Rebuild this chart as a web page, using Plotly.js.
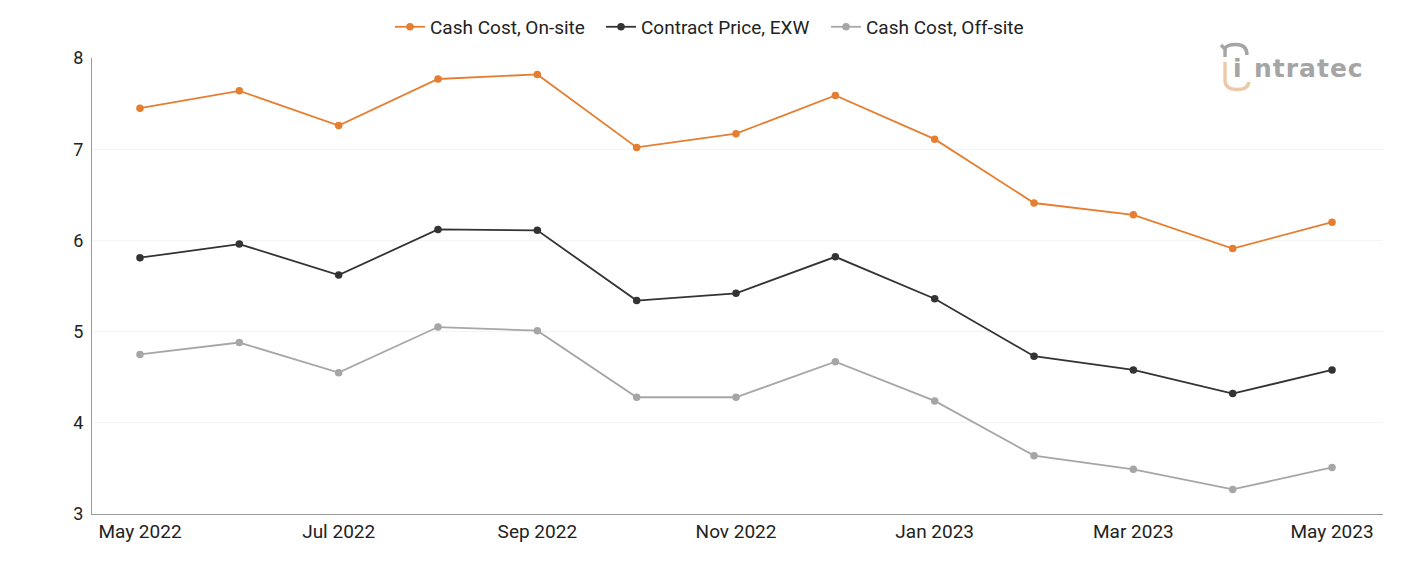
<!DOCTYPE html>
<html>
<head>
<meta charset="utf-8">
<script src="https://cdn.plot.ly/plotly-3.0.1.min.js"></script>
<style>
  html, body { margin: 0; padding: 0; background: #ffffff; }
  #chart { width: 1401px; height: 561px; }
</style>
</head>
<body>
<div id="chart"></div>
<script>
// Monthly observations, May 2022 – May 2023
const months = [
  'May 2022', 'Jun 2022', 'Jul 2022', 'Aug 2022', 'Sep 2022', 'Oct 2022',
  'Nov 2022', 'Dec 2022', 'Jan 2023', 'Feb 2023', 'Mar 2023', 'Apr 2023', 'May 2023'
];
const cashCostOnSite = [7.45, 7.64, 7.26, 7.77, 7.82, 7.02, 7.17, 7.59, 7.11, 6.41, 6.28, 5.91, 6.20];
const contractPriceEXW = [5.81, 5.96, 5.62, 6.12, 6.11, 5.34, 5.42, 5.82, 5.36, 4.73, 4.58, 4.32, 4.58];
const cashCostOffSite = [4.75, 4.88, 4.55, 5.05, 5.01, 4.28, 4.28, 4.67, 4.24, 3.64, 3.49, 3.27, 3.51];

const seriesNames = ['Cash Cost, On-site', 'Contract Price, EXW', 'Cash Cost, Off-site'];
const yTicks = [3, 4, 5, 6, 7, 8];
const xTicks = months.filter((m, i) => i % 2 === 0);

const colors = ['#e57e31', '#333333', '#a6a6a6'];
const legendWidths = [166, 180, 170];
const FONT = 'Roboto, "Noto Sans", sans-serif';

function lineTrace(name, values, color, lw) {
  return {
    type: 'scatter',
    mode: 'lines+markers',
    name: name,
    x: months,
    y: values,
    line: { color: color, width: 1.8 },
    marker: { color: color, size: 7.5 },
    legendwidth: lw,
    hoverinfo: 'x+y+name'
  };
}

const traces = [
  lineTrace(seriesNames[0], cashCostOnSite, colors[0], legendWidths[0]),
  lineTrace(seriesNames[1], contractPriceEXW, colors[1], legendWidths[1]),
  lineTrace(seriesNames[2], cashCostOffSite, colors[2], legendWidths[2])
];

// plot-area geometry (pixels) used to place the logo decorations
const W = 1401, H = 561;
const M = { l: 92, r: 18, t: 58, b: 47 };
const pw = W - M.l - M.r, ph = H - M.t - M.b;
const px = v => (v - M.l) / pw;
const py = v => (H - M.b - v) / ph;

function pathFrom(points) {
  return points.map(p => p[0] + ' ' + px(p[1]).toFixed(5) + ',' + py(p[2]).toFixed(5)).join(' ');
}

const LOGO_GREY = '#a5a5a5';
const LOGO_PEACH = '#eccaa9';
const LOGO_FONT = '"DejaVu Sans", sans-serif';

const logoShapes = [
  {
    type: 'path', xref: 'paper', yref: 'paper', layer: 'above',
    path: pathFrom([['M', 1221, 45], ['L', 1225, 49], ['Q', 1226, 44.5], ['', 1236, 44.5], ['Q', 1247, 44.5], ['', 1247, 55]]),
    line: { color: LOGO_GREY, width: 3.4 }
  },
  {
    type: 'path', xref: 'paper', yref: 'paper', layer: 'above',
    path: pathFrom([['M', 1225, 49], ['L', 1225, 57]]),
    line: { color: LOGO_GREY, width: 3.4 }
  },
  {
    type: 'path', xref: 'paper', yref: 'paper', layer: 'above',
    path: pathFrom([['M', 1225, 62], ['L', 1225, 80], ['Q', 1225, 89.5], ['', 1237, 89.5], ['Q', 1248, 89.5], ['', 1249, 82]]),
    line: { color: LOGO_PEACH, width: 3.4 }
  }
];

const layout = {
  width: W,
  height: H,
  margin: M,
  paper_bgcolor: '#ffffff',
  plot_bgcolor: '#ffffff',
  font: { family: FONT, size: 19, color: '#222222' },
  showlegend: true,
  legend: {
    orientation: 'h',
    xref: 'container', yref: 'container',
    x: 390 / W, xanchor: 'left',
    y: 0.952, yanchor: 'middle',
    font: { family: FONT, size: 19, color: '#222222' },
    itemwidth: 30,
    tracegroupgap: 0
  },
  xaxis: {
    type: 'category',
    range: [-0.483, 12.513],
    tickmode: 'array',
    tickvals: xTicks,
    ticktext: xTicks,
    showgrid: false,
    zeroline: false,
    showline: true,
    linecolor: '#9a9a9a',
    linewidth: 1,
    ticks: '',
    ticklabelstandoff: 0,
    tickfont: { family: FONT, size: 19, color: '#222222' },
    fixedrange: true
  },
  yaxis: {
    range: [3, 8],
    tickmode: 'array',
    tickvals: yTicks,
    showgrid: true,
    gridcolor: '#f4f4f4',
    gridwidth: 1,
    zeroline: false,
    showline: true,
    linecolor: '#9a9a9a',
    linewidth: 1,
    ticks: '',
    ticklabelstandoff: 4,
    tickfont: { family: FONT, size: 18, color: '#222222' },
    fixedrange: true
  },
  shapes: logoShapes,
  annotations: [
    {
      text: 'i',
      xref: 'paper', yref: 'paper',
      x: px(1237), y: py(68.5),
      xanchor: 'center', yanchor: 'middle',
      showarrow: false,
      font: { family: LOGO_FONT, size: 25, color: LOGO_GREY, weight: 'bold' }
    },
    {
      text: '<span style="letter-spacing:1px">ntratec</span>',
      xref: 'paper', yref: 'paper',
      x: px(1252), y: py(68.5),
      xanchor: 'left', yanchor: 'middle',
      showarrow: false,
      font: { family: LOGO_FONT, size: 25, color: LOGO_GREY, weight: 'bold' }
    }
  ]
};

Plotly.newPlot('chart', traces, layout, { displayModeBar: false, staticPlot: true });
</script>
</body>
</html>
